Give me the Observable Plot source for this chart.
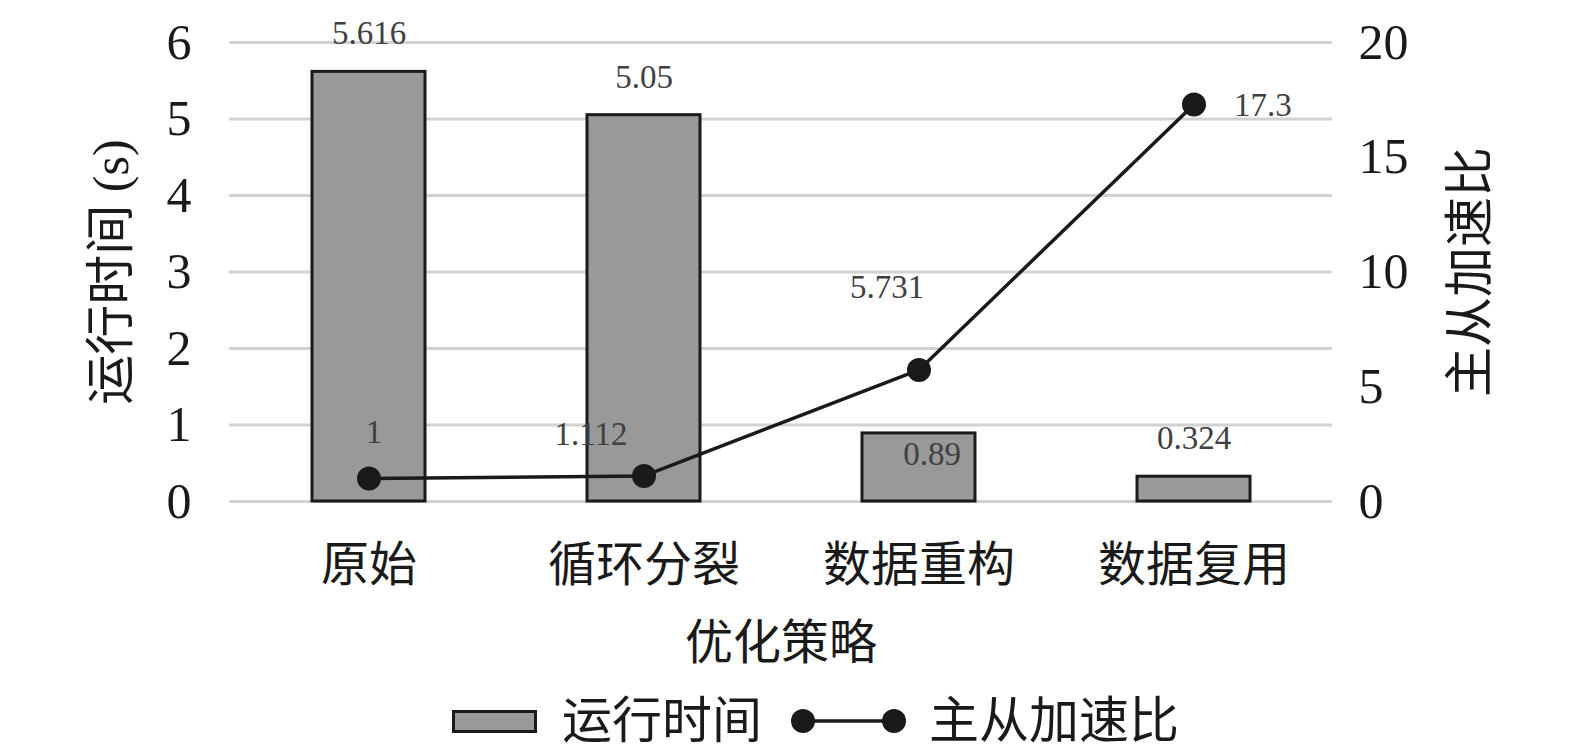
<!DOCTYPE html>
<html><head><meta charset="utf-8">
<script src="https://cdn.jsdelivr.net/npm/d3@7"></script>
<script src="https://cdn.jsdelivr.net/npm/@observablehq/plot@0.6"></script>
<style>
html,body{margin:0;padding:0;background:#fff;overflow:hidden;}
body{font-family:"Liberation Serif","Noto Sans CJK SC",serif;color:#1a1a1a;}
#legend{display:flex;align-items:center;height:72px;padding-left:452px;font-size:50px;line-height:1;}
#legend .sw{display:inline-block;width:79px;height:17px;background:#999;border:3px solid #1a1a1a;margin-right:25px;}
#legend .ln{margin-left:29px;margin-right:23px;}
</style></head><body>
<div id="chart"></div>
<div id="legend"></div>
<script>
const categories = ["原始", "循环分裂", "数据重构", "数据复用"];
const runtime = [5.616, 5.05, 0.89, 0.324];
const speedup = [1, 1.112, 5.731, 17.3];
const seriesNames = ["运行时间", "主从加速比"];
const leftTicks = [0, 1, 2, 3, 4, 5, 6];
const rightTicks = [0, 5, 10, 15, 20];
const leftMax = 6, rightMax = 20;
const toLeft = v => v * leftMax / rightMax;

const rows = categories.map((c, i) => ({cat: c, time: runtime[i], speed: speedup[i]}));
const ink = "#1a1a1a";
const labelColor = "#404040";
const font = '"Liberation Serif","Noto Sans CJK SC",serif';
const ly = d => toLeft(d.speed);

const chart = Plot.plot({
  width: 1575, height: 685,
  marginTop: 42, marginBottom: 184, marginLeft: 229, marginRight: 243,
  style: {fontFamily: font, background: "#fff", color: ink, overflow: "visible"},
  x: {domain: categories, paddingInner: 0.59, paddingOuter: 0.295, label: null},
  y: {domain: [0, leftMax], label: null},
  marks: [
    Plot.gridY(leftTicks, {stroke: "#d2d2d2", strokeOpacity: 1, strokeWidth: 3}),
    Plot.axisY(leftTicks, {anchor: "left", tickSize: 0, tickPadding: 38, fontSize: 50, fill: ink,
      tickFormat: d => String(d),
      label: seriesNames[0] + " (s)", labelAnchor: "center", labelOffset: 137, labelArrow: "none"}),
    Plot.axisY(rightTicks.map(toLeft), {anchor: "right", tickSize: 0, tickPadding: 26, fontSize: 50, fill: ink,
      tickFormat: d => String(Math.round(d * rightMax / leftMax)),
      label: seriesNames[1], labelAnchor: "center", labelOffset: 154, labelArrow: "none"}),
    Plot.axisX({anchor: "bottom", tickSize: 0, tickPadding: 45, fontSize: 48, fill: ink,
      label: "优化策略", labelAnchor: "center", labelOffset: 157, labelArrow: "none"}),
    Plot.barY(rows, {x: "cat", y: "time", fill: "#999999", stroke: ink, strokeWidth: 3}),
    Plot.line(rows, {x: "cat", y: ly, stroke: ink, strokeWidth: 3.5}),
    Plot.dot(rows, {x: "cat", y: ly, r: 12, fill: ink, stroke: "none"}),
    // bar value labels
    Plot.text(rows, {filter: d => d.cat !== "数据重构", x: "cat", y: "time", text: d => String(d.time),
      dy: -38, fontSize: 33, fill: labelColor}),
    Plot.text(rows, {filter: d => d.cat === "数据重构", x: "cat", y: "time", text: d => String(d.time),
      dy: 21, dx: 13, fontSize: 33, fill: labelColor}),
    // speedup value labels
    Plot.text(rows, {filter: d => d.cat === "原始", x: "cat", y: ly, text: d => String(d.speed),
      dy: -46, dx: 5, fontSize: 33, fill: labelColor}),
    Plot.text(rows, {filter: d => d.cat === "循环分裂", x: "cat", y: ly, text: d => String(d.speed),
      dy: -42, dx: -53, fontSize: 33, fill: labelColor}),
    Plot.text(rows, {filter: d => d.cat === "数据重构", x: "cat", y: ly, text: d => String(d.speed),
      dy: -83, dx: -32, fontSize: 33, fill: labelColor}),
    Plot.text(rows, {filter: d => d.cat === "数据复用", x: "cat", y: ly, text: d => String(d.speed),
      dy: 1, dx: 40, textAnchor: "start", fontSize: 33, fill: labelColor})
  ]
});
document.getElementById("chart").appendChild(chart);

const legend = document.getElementById("legend");
const sw = document.createElement("span"); sw.className = "sw"; legend.appendChild(sw);
const t1 = document.createElement("span"); t1.textContent = seriesNames[0]; legend.appendChild(t1);
const ns = "http://www.w3.org/2000/svg";
const s = document.createElementNS(ns, "svg");
s.setAttribute("width", "115"); s.setAttribute("height", "30"); s.setAttribute("class", "ln");
s.innerHTML = `<line x1="12" y1="15" x2="103" y2="15" stroke="${ink}" stroke-width="3.5"/>` +
  `<circle cx="12" cy="15" r="12" fill="${ink}"/><circle cx="103" cy="15" r="12" fill="${ink}"/>`;
legend.appendChild(s);
const t2 = document.createElement("span"); t2.textContent = seriesNames[1]; legend.appendChild(t2);
</script>
</body></html>
